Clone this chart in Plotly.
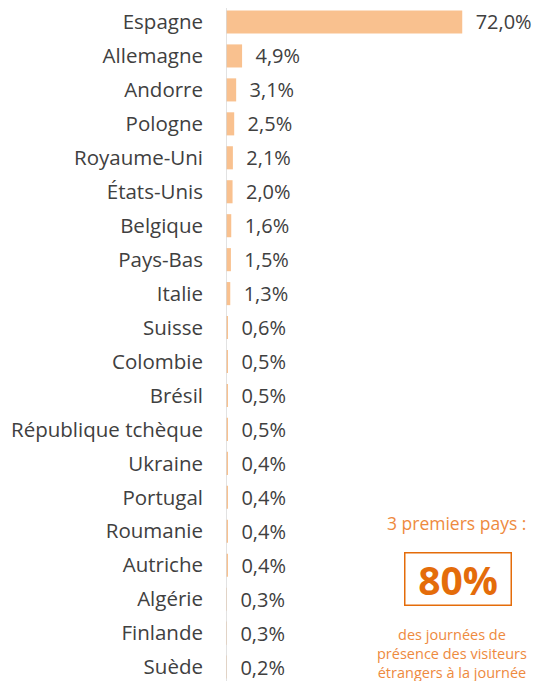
import plotly.graph_objects as go

pays = ["Espagne", "Allemagne", "Andorre", "Pologne", "Royaume-Uni", "États-Unis",
        "Belgique", "Pays-Bas", "Italie", "Suisse", "Colombie", "Brésil",
        "République tchèque", "Ukraine", "Portugal", "Roumanie", "Autriche",
        "Algérie", "Finlande", "Suède"]
parts = [72.0, 4.9, 3.1, 2.5, 2.1, 2.0, 1.6, 1.5, 1.3, 0.6, 0.5, 0.5, 0.5,
         0.4, 0.4, 0.4, 0.4, 0.3, 0.3, 0.2]
top3 = "80%"

pos = list(range(len(pays)))
labels = ["\u00a0\u00a0" + f"{v:.1f}".replace(".", ",") + "%" for v in parts]

# the page body has an 8px margin, so the figure is 8px smaller than the window
W, H = 532, 673

fig = go.Figure()
fig.add_trace(go.Bar(
    x=parts, y=pos, orientation="h", width=0.68,
    marker=dict(color="#F9C18F", line=dict(width=0)),
    text=labels, textposition="outside", cliponaxis=False, constraintext="none",
    textfont=dict(size=20, color="#404040", family="Open Sans"),
))

fig.update_layout(
    width=W, height=H,
    margin=dict(l=218, r=0, t=0, b=0),
    plot_bgcolor="white", paper_bgcolor="white",
    showlegend=False,
    font=dict(family="Open Sans", color="#404040"),
    xaxis=dict(range=[0, 95.7], visible=False, showgrid=False),
    yaxis=dict(range=[19.41, -0.412], tickvals=pos, ticktext=pays,
               showgrid=False, zeroline=False, ticks="", ticklabelstandoff=22,
               ticklabeloverflow="allow",
               tickfont=dict(size=20.5, color="#404040", family="Open Sans")),
    shapes=[dict(type="line", xref="x", yref="paper", x0=0, x1=0, y0=0, y1=1,
                 line=dict(color="#D9D9D9", width=1.5))],
)

def py(y):
    return 1 - (y - 8) / H

fig.add_annotation(xref="paper", yref="paper", x=0.735, y=py(523),
                   xanchor="center", yanchor="middle",
                   text="3 premiers pays :", showarrow=False,
                   font=dict(size=17.5, color="#EE8A3E", family="Open Sans"))
fig.add_annotation(xref="paper", yref="paper", x=0.740, y=py(579),
                   xanchor="center", yanchor="middle",
                   text="<b>" + top3 + "</b>", showarrow=False,
                   font=dict(size=39, color="#E46C0A", family="Open Sans"),
                   bordercolor="#E46C0A", borderwidth=1.5, borderpad=3,
                   width=99, height=45)
fig.add_annotation(xref="paper", yref="paper", x=0.720, y=py(653),
                   xanchor="center", yanchor="middle",
                   text="des journées de<br>présence des visiteurs<br>étrangers à la journée",
                   showarrow=False, align="center",
                   font=dict(size=14.5, color="#EE8A3E", family="Open Sans"))

fig.write_html("out.html")
